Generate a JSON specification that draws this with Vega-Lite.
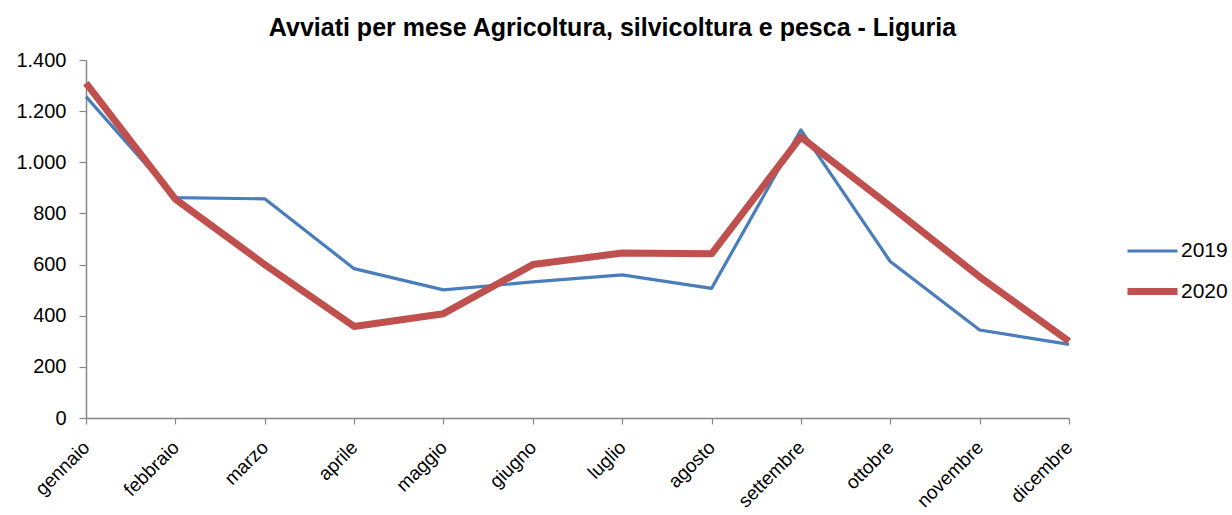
{
  "$schema": "https://vega.github.io/schema/vega-lite/v6.json",
  "autosize": "none",
  "width": 983,
  "height": 358,
  "padding": {"left": 86, "top": 60, "right": 163, "bottom": 97},
  "background": "white",
  "config": {
    "locale": {"number": {"decimal": ",", "thousands": ".", "grouping": [3], "currency": ["€", ""]}},
    "font": "Liberation Sans",
    "view": {"stroke": null}
  },
  "title": {
    "text": "Avviati per mese Agricoltura, silvicoltura e pesca - Liguria",
    "font": "Liberation Sans",
    "fontSize": 25,
    "fontWeight": "bold",
    "color": "#000000",
    "anchor": "middle",
    "dx": 35,
    "offset": 9
  },
  "data": {
    "values": [
      {"mese": "gennaio", "anno": "2019", "valore": 1257},
      {"mese": "febbraio", "anno": "2019", "valore": 862},
      {"mese": "marzo", "anno": "2019", "valore": 857},
      {"mese": "aprile", "anno": "2019", "valore": 584},
      {"mese": "maggio", "anno": "2019", "valore": 501},
      {"mese": "giugno", "anno": "2019", "valore": 532},
      {"mese": "luglio", "anno": "2019", "valore": 560},
      {"mese": "agosto", "anno": "2019", "valore": 507},
      {"mese": "settembre", "anno": "2019", "valore": 1127},
      {"mese": "ottobre", "anno": "2019", "valore": 612},
      {"mese": "novembre", "anno": "2019", "valore": 344},
      {"mese": "dicembre", "anno": "2019", "valore": 288},
      {"mese": "gennaio", "anno": "2020", "valore": 1310},
      {"mese": "febbraio", "anno": "2020", "valore": 856},
      {"mese": "marzo", "anno": "2020", "valore": 600},
      {"mese": "aprile", "anno": "2020", "valore": 358},
      {"mese": "maggio", "anno": "2020", "valore": 408},
      {"mese": "giugno", "anno": "2020", "valore": 600},
      {"mese": "luglio", "anno": "2020", "valore": 645},
      {"mese": "agosto", "anno": "2020", "valore": 642},
      {"mese": "settembre", "anno": "2020", "valore": 1099},
      {"mese": "ottobre", "anno": "2020", "valore": 828},
      {"mese": "novembre", "anno": "2020", "valore": 552},
      {"mese": "dicembre", "anno": "2020", "valore": 300}
    ]
  },
  "mark": {"type": "line", "strokeJoin": "round", "strokeCap": "butt"},
  "encoding": {
    "x": {
      "field": "mese",
      "type": "ordinal",
      "sort": ["gennaio", "febbraio", "marzo", "aprile", "maggio", "giugno", "luglio", "agosto", "settembre", "ottobre", "novembre", "dicembre"],
      "scale": {"type": "point", "padding": 0},
      "axis": {
        "title": null,
        "labelAngle": -45,
        "labelAlign": "right",
        "labelBaseline": "middle",
        "labelFontSize": 19,
        "labelColor": "#000000",
        "labelFont": "Liberation Sans",
        "domainColor": "#868686",
        "domainWidth": 1.5,
        "tickColor": "#868686",
        "tickSize": 6,
        "tickWidth": 1.2,
        "labelPadding": 20,
        "grid": false
      }
    },
    "y": {
      "field": "valore",
      "type": "quantitative",
      "scale": {"domain": [0, 1400], "nice": false},
      "axis": {
        "title": null,
        "values": [0, 200, 400, 600, 800, 1000, 1200, 1400],
        "format": ",d",
        "labelFontSize": 20,
        "labelColor": "#000000",
        "labelFont": "Liberation Sans",
        "domainColor": "#868686",
        "domainWidth": 1.5,
        "tickColor": "#868686",
        "tickSize": 7,
        "tickWidth": 1.2,
        "labelPadding": 13,
        "grid": false
      }
    },
    "color": {
      "field": "anno",
      "type": "nominal",
      "scale": {"domain": ["2019", "2020"], "range": ["#4a7ebb", "#c0504d"]},
      "legend": {
        "title": null,
        "orient": "none",
        "legendX": 1038,
        "legendY": 164,
        "symbolType": "stroke",
        "symbolSize": 2500,
        "labelFontSize": 21,
        "labelColor": "#000000",
        "labelFont": "Liberation Sans",
        "rowPadding": 2,
        "labelOffset": 0
      }
    },
    "strokeWidth": {
      "field": "anno",
      "type": "nominal",
      "scale": {"domain": ["2019", "2020"], "range": [3.2, 7]},
      "legend": {
        "title": null,
        "orient": "none",
        "legendX": 1038,
        "legendY": 164,
        "symbolType": "stroke",
        "symbolSize": 2500,
        "labelFontSize": 21,
        "labelColor": "#000000",
        "labelFont": "Liberation Sans",
        "rowPadding": 2,
        "labelOffset": 0
      }
    }
  }
}
